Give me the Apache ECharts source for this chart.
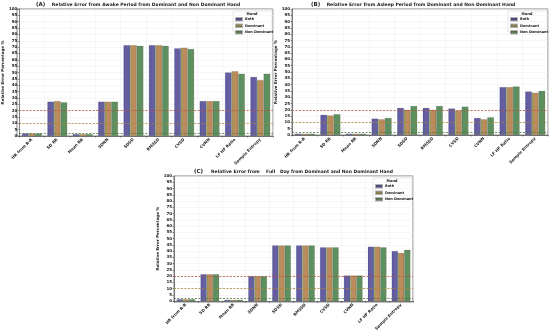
<!DOCTYPE html>
<html><head><meta charset="utf-8">
<script src="https://cdn.jsdelivr.net/npm/echarts@6/dist/echarts.min.js"></script>
<style>html,body{margin:0;padding:0;background:#fff}#c{width:550px;height:333px}</style>
</head><body><div id="c"></div>
<script>
const categories = ["HR from R-R","SD RR","Mean RR","SDNN","SDSD","RMSSD","CVSD","CVNN","LF HF Ratio","Sample Entropy"];
const seriesNames = ["Both","Dominant","Non Dominant"];
const yTicks = {min:0, max:100, interval:5};
const thresholds = [20, 10, 2.5];

// Panel A: Awake
const awakeBoth = [2, 27, 1.5, 27, 71.5, 71.5, 69, 27.5, 50, 46.5];
const awakeDom  = [2, 27.5, 1.5, 27, 71.5, 71.5, 69.5, 27.5, 51, 44];
const awakeNon  = [2, 26.5, 1.5, 27, 71, 71, 68.5, 27.5, 49, 49];
// Panel B: Asleep
const asleepBoth = [1, 16, 1, 13, 21.5, 21.5, 21, 13.5, 38, 34.5];
const asleepDom  = [1, 15.5, 1, 12.5, 20, 20, 19.5, 12.5, 38, 33.5];
const asleepNon  = [1, 16.5, 1, 13.5, 23, 23, 22.5, 14, 38.5, 35];
// Panel C: Full day
const fullBoth = [1.5, 21.5, 1, 20, 44.5, 44.5, 43, 20.5, 43.5, 40];
const fullDom  = [1.5, 21.5, 1, 20, 44.5, 44.5, 43, 20.5, 43.5, 38.5];
const fullNon  = [1.5, 21.5, 1, 20, 44.5, 44.5, 43, 20.5, 43, 41];

const panels = [
  {label:"(A)", title:"Relative Error from Awake Period from Dominant and Non Dominant Hand", data:[awakeBoth,awakeDom,awakeNon],
   grid:{left:17, top:9, width:256, height:127}, labelX:36, titleX:146, titleY:5},
  {label:"(B)", title:"Relative Error from Asleep Period from Dominant and Non Dominant Hand", data:[asleepBoth,asleepDom,asleepNon],
   grid:{left:292, top:9, width:256, height:126}, labelX:311, titleX:421, titleY:5},
  {label:"(C)", title:"Relative Error from    Full   Day from Dominant and Non Dominant Hand", data:[fullBoth,fullDom,fullNon],
   grid:{left:174, top:176, width:239, height:126}, labelX:194, titleX:302, titleY:172}
];

const colors = [
  {type:'linear',x:0,y:0,x2:1,y2:0,colorStops:[{offset:0,color:'#5a5aa6'},{offset:0.5,color:'#6a5d9e'},{offset:1,color:'#5a66a0'}]},
  {type:'linear',x:0,y:0,x2:1,y2:0,colorStops:[{offset:0,color:'#9c9a58'},{offset:0.5,color:'#c08a5e'},{offset:1,color:'#b48a5a'}]},
  {type:'linear',x:0,y:0,x2:1,y2:0,colorStops:[{offset:0,color:'#5f8c62'},{offset:0.5,color:'#5a9060'},{offset:1,color:'#6b8e5e'}]}
];
const legendColors = ['#5b59a4','#a99a5a','#6a8f60'];
const lineColors = ['#b5533c','#a8873a','#4d7a3e'];
const FONT = 'DejaVu Sans';

const option = {
  animation:false,
  backgroundColor:'#fff',
  grid:[], xAxis:[], yAxis:[], series:[], legend:[], graphic:[]
};

panels.forEach((p,i)=>{
  option.grid.push(Object.assign({containLabel:false}, p.grid));
  option.graphic.push({type:'text', x:p.labelX, y:p.titleY, style:{text:p.label, fontSize:5.5, fontWeight:'bold', fill:'#222', fontFamily:FONT, textAlign:'left', textVerticalAlign:'middle'}});
  option.graphic.push({type:'text', x:p.titleX, y:p.titleY, style:{text:p.title, fontSize:4.5, fontWeight:'bold', fill:'#222', fontFamily:FONT, textAlign:'center', textVerticalAlign:'middle'}});
  option.xAxis.push({type:'category', gridIndex:i, data:categories,
    axisLine:{lineStyle:{color:'#333',width:0.6}}, axisTick:{show:true,length:1.5,lineStyle:{color:'#333',width:0.5}},
    axisLabel:{rotate:45, fontSize:4, fontWeight:'bold', color:'#222', margin:3, interval:0, fontFamily:FONT},
    splitLine:{show:true, lineStyle:{color:'#eee',width:0.5}}});
  option.yAxis.push({type:'value', gridIndex:i, min:yTicks.min, max:yTicks.max, interval:yTicks.interval,
    name:'Relative Error Percentage %', nameLocation:'middle', nameGap:10, nameRotate:90,
    nameTextStyle:{fontSize:4, fontWeight:'bold', color:'#222', fontFamily:FONT},
    axisLine:{show:true,lineStyle:{color:'#333',width:0.6}}, axisTick:{show:true,length:1.5,lineStyle:{color:'#333',width:0.5}},
    axisLabel:{fontSize:4, fontWeight:'bold', color:'#222', margin:2, fontFamily:FONT},
    splitLine:{show:true, lineStyle:{color:'#eee',width:0.5}}});
  p.data.forEach((vals,k)=>{
    const s = {name:seriesNames[k], type:'bar', xAxisIndex:i, yAxisIndex:i, data:vals,
      barGap:'0%', barCategoryGap:'22%',
      itemStyle:{color:colors[k], borderColor:'rgba(40,40,40,0.35)', borderWidth:0.3}};
    if(k===2){
      s.markLine = {silent:true, symbol:'none', label:{show:false},
        data: thresholds.map((t,j)=>({yAxis:t, lineStyle:{color:lineColors[j], type:[2,1.5], width:0.8}}))};
    }
    option.series.push(s);
  });
  const g = p.grid;
  const lx = g.left + g.width - 38;
  option.legend.push({orient:'vertical', left:lx, top:g.top+8, data:seriesNames.map((n,k)=>({name:n, itemStyle:{color:legendColors[k]}})),
    itemWidth:6, itemHeight:2.5, itemGap:2, textStyle:{fontSize:3.5, fontWeight:'bold', color:'#222', fontFamily:FONT, padding:[0,0,0,-2]},
    icon:'rect', padding:0});
  option.graphic.push({type:'rect', x:lx-2, y:g.top+2, shape:{width:39, height:21}, style:{fill:'rgba(255,255,255,0.85)', stroke:'#ccc', lineWidth:0.5}, z:0});
  option.graphic.push({type:'text', x:lx+17, y:g.top+5, style:{text:'Hand', fontSize:3.8, fontWeight:'bold', fill:'#222', fontFamily:FONT, textAlign:'center', textVerticalAlign:'middle'}, z:1});
  option.graphic.push({type:'rect', x:g.left, y:g.top, shape:{width:g.width, height:g.height}, style:{fill:'none', stroke:'#333', lineWidth:0.6}, z:-1, silent:true});
});

const chart = echarts.init(document.getElementById('c'), null, {renderer:'canvas'});
chart.setOption(option);
</script></body></html>
